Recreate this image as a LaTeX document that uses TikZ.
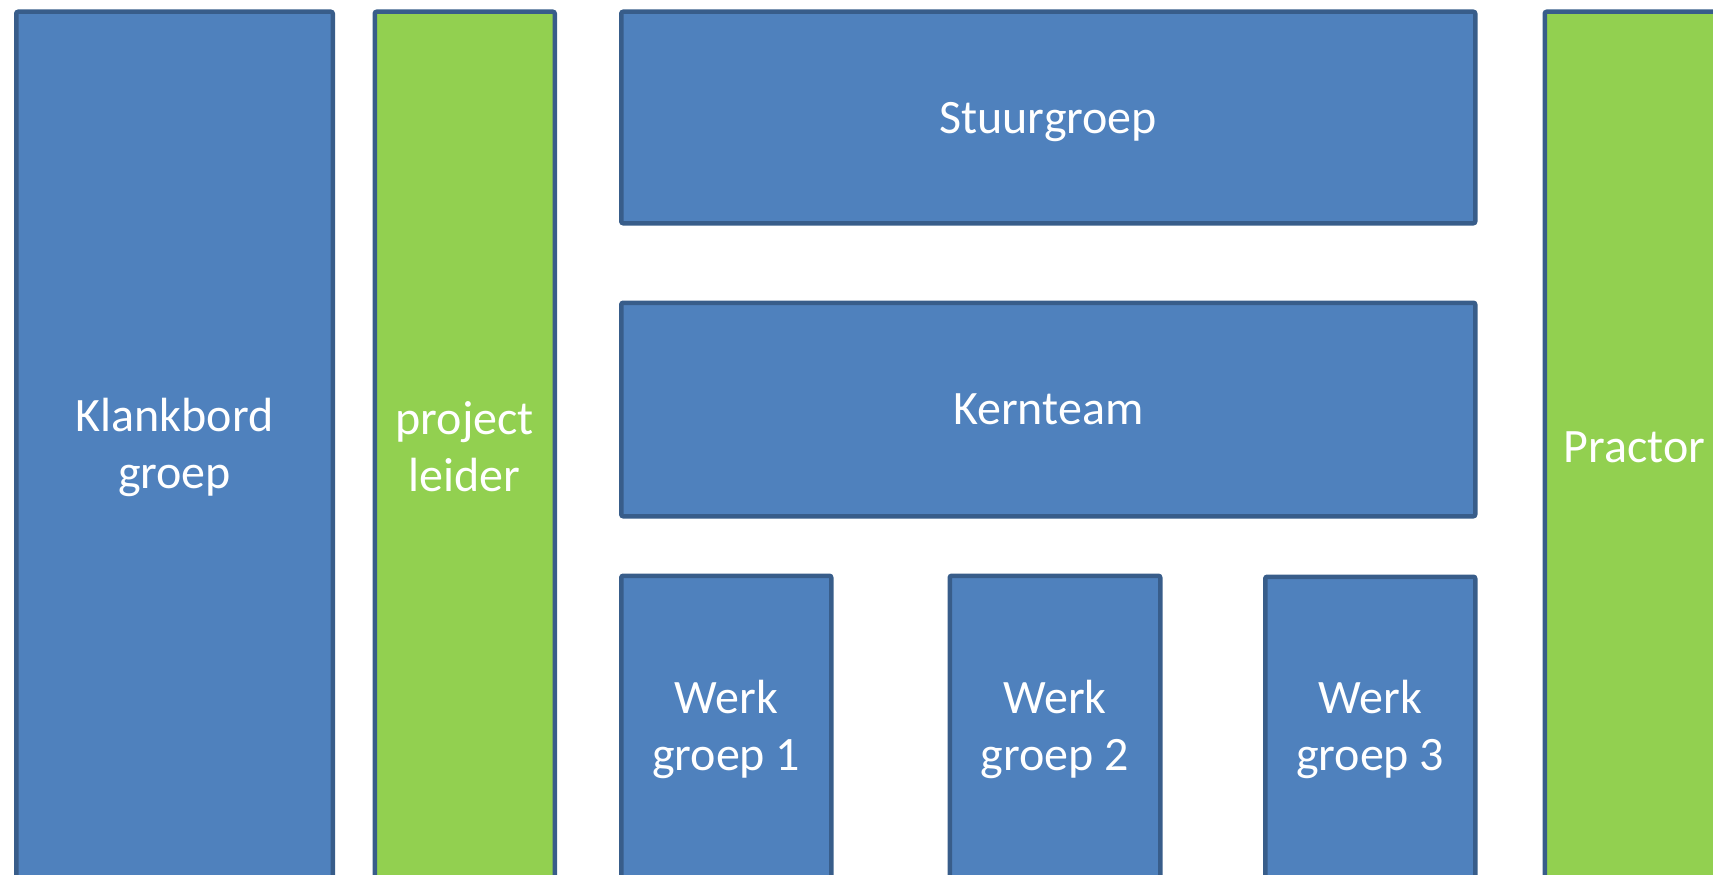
\documentclass[tikz,border=0pt]{standalone}
\usepackage{fontspec}
\setmainfont{Carlito}
\definecolor{boxblue}{HTML}{4F81BD}
\definecolor{boxgreen}{HTML}{92D050}
\definecolor{boxline}{HTML}{385D8A}
\begin{document}
\begin{tikzpicture}[x=1pt,y=-1pt,
  box/.style={draw=boxline, line width=4.5pt, rounded corners=2pt, inner sep=0pt,
    anchor=north west, align=center, text=white,
    font=\fontsize{48}{57}\selectfont},
  bluebox/.style={box, fill=boxblue},
  greenbox/.style={box, fill=boxgreen}]
\useasboundingbox (0,0) rectangle (1713,875);
\clip (0,0) rectangle (1713,875);
\node[bluebox, minimum width=316.5pt, minimum height=870.5pt] (klank) at (14,9.5) {Klankbord\\groep};
\node[greenbox, minimum width=180pt, minimum height=870.5pt] (pl) at (372.5,9.5) {project\\leider};
\node[bluebox, minimum width=854pt, minimum height=211.5pt] (stuur) at (619,9.5) {\raisebox{0pt}[\height][0pt]{Stuurgroep}};
\node[bluebox, minimum width=854pt, minimum height=213.5pt] (kern) at (619,300.5) {Kernteam};
\node[bluebox, minimum width=210pt, minimum height=306.5pt] (wg1) at (619,573.5) {Werk\\groep 1};
\node[bluebox, minimum width=210.5pt, minimum height=306.5pt] (wg2) at (947.5,573.5) {Werk\\groep 2};
\node[bluebox, minimum width=210pt, minimum height=305.5pt] (wg3) at (1263,574.5) {Werk\\groep 3};
\node[greenbox, minimum width=179.5pt, minimum height=870.5pt] (practor) at (1542.5,9.5) {Practor};
\end{tikzpicture}
\end{document}
